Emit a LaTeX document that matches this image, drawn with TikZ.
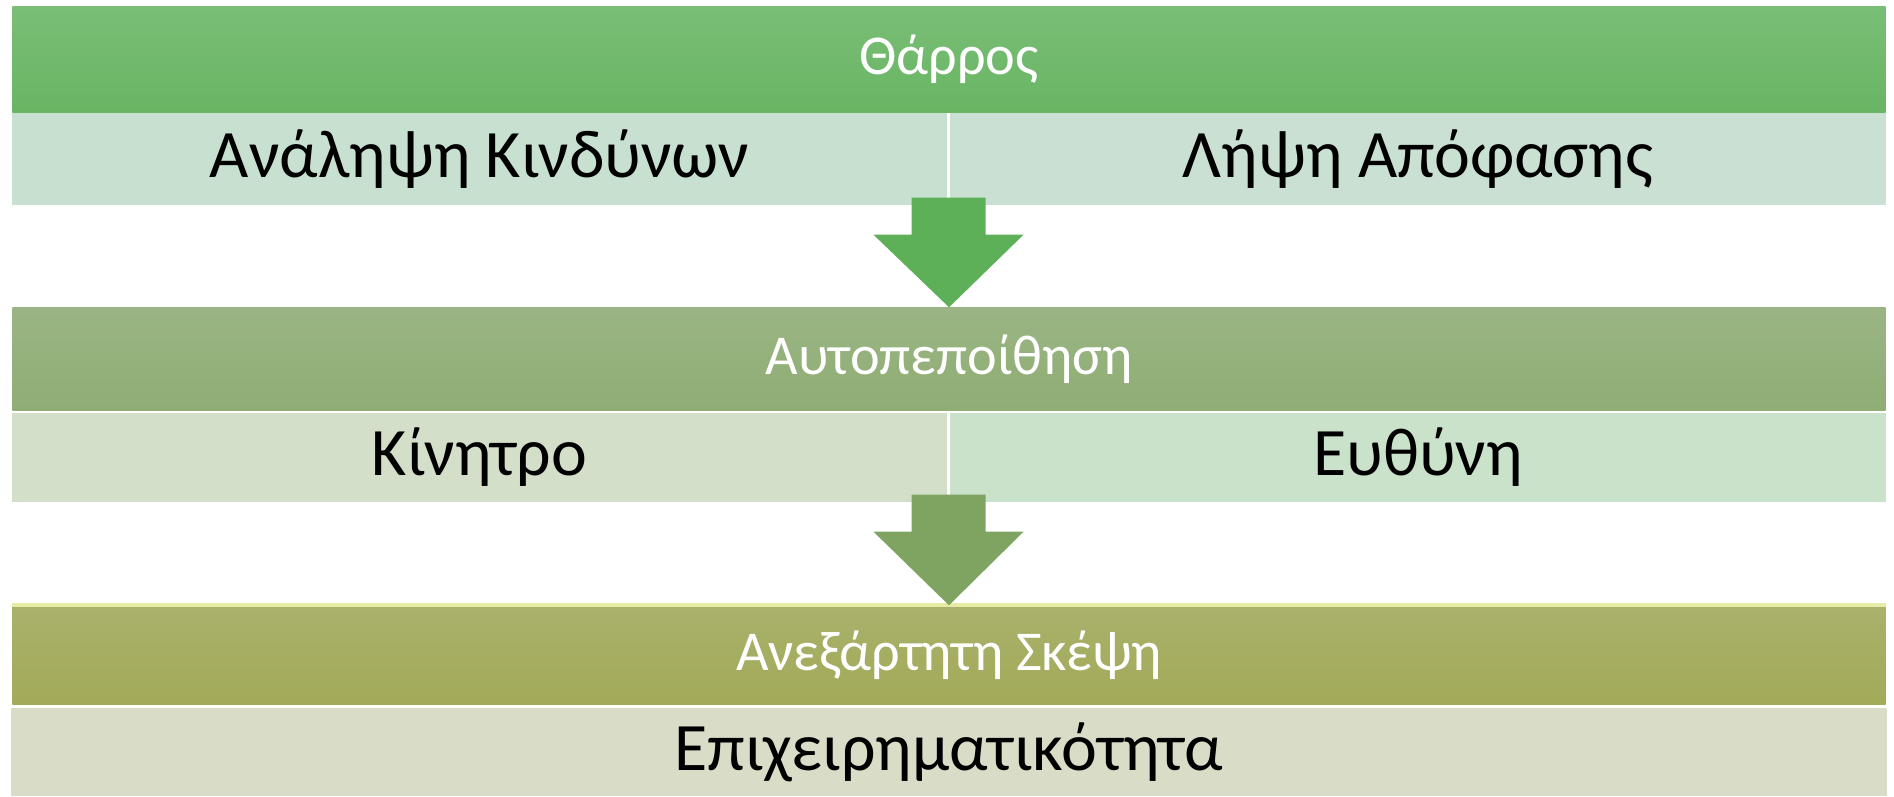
\documentclass[tikz,border=0pt]{standalone}
\usepackage{fontspec}
\setmainfont{Carlito}
\usetikzlibrary{calc}
\definecolor{vertA}{RGB}{121,190,118}
\definecolor{vertB}{RGB}{105,181,100}
\definecolor{caseA}{RGB}{200,224,207}
\definecolor{caseE}{RGB}{201,224,211}
\definecolor{flecheA}{RGB}{93,176,88}
\definecolor{oliveA}{RGB}{154,181,131}
\definecolor{oliveB}{RGB}{143,173,116}
\definecolor{caseB}{RGB}{212,223,202}
\definecolor{caseC}{RGB}{202,225,202}
\definecolor{flecheB}{RGB}{127,164,98}
\definecolor{kakiA}{RGB}{169,177,108}
\definecolor{kakiB}{RGB}{163,170,88}
\definecolor{kakiL}{RGB}{230,235,165}
\definecolor{caseD}{RGB}{217,220,198}
\tikzset{
  bandeau/.style={inner sep=0pt, text=white, minimum width=18.72cm,
    font=\fontsize{16}{16}\selectfont},
  case/.style={inner sep=0pt, minimum height=0.92cm,
    font=\fontsize{19.3}{19.3}\selectfont}
}
\newcommand{\fleche}[3]{\fill[#3] ($(#1)+(-37,-8)$) -- ($(#1)+(37,-8)$) -- ($(#1)+(37,29)$) -- ($(#1)+(75,29)$) -- (#2) -- ($(#1)+(-75,29)$) -- ($(#1)+(-37,29)$) -- cycle;}

\begin{document}
\begin{tikzpicture}[x=0.01cm,y=-0.01cm]
\useasboundingbox (0,0) rectangle (1894,796);

% premier bloc
\node[bandeau, top color=vertA, bottom color=vertB, minimum height=1.05cm] (b1) at (949,59.5) {Θάρρος};
\node[case, fill=caseA, minimum width=9.35cm] (c1g) at (479.5,159) {Ανάληψη Κινδύνων};
\node[case, fill=caseE, minimum width=9.36cm] (c1d) at (1418,159) {Λήψη Απόφασης};
\coordinate (d1) at ($(c1g.south east)!0.5!(c1d.south west)$);

% second bloc
\node[bandeau, top color=oliveA, bottom color=oliveB, minimum height=1.02cm] (b2) at (949,359) {Αυτοπεποίθηση};
\node[case, fill=caseB, minimum width=9.35cm, minimum height=0.89cm] (c2g) at (479.5,457.5) {Κίνητρο};
\node[case, fill=caseC, minimum width=9.36cm, minimum height=0.89cm] (c2d) at (1418,457.5) {Ευθύνη};
\coordinate (d2) at ($(c2g.south east)!0.5!(c2d.south west)$);

% troisieme bloc
\node[bandeau, top color=kakiA, bottom color=kakiB, minimum height=0.98cm] (b3) at (949,655) {Ανεξάρτητη Σκέψη};
\draw[kakiL, line width=1.2pt] (b3.north west) -- (b3.north east);
\node[case, fill=caseD, minimum width=18.74cm, minimum height=0.88cm] (c3) at (949,752) {Επιχειρηματικότητα};

\fleche{d1}{b2.north}{flecheA}
\fleche{d2}{b3.north}{flecheB}
\end{tikzpicture}
\end{document}
